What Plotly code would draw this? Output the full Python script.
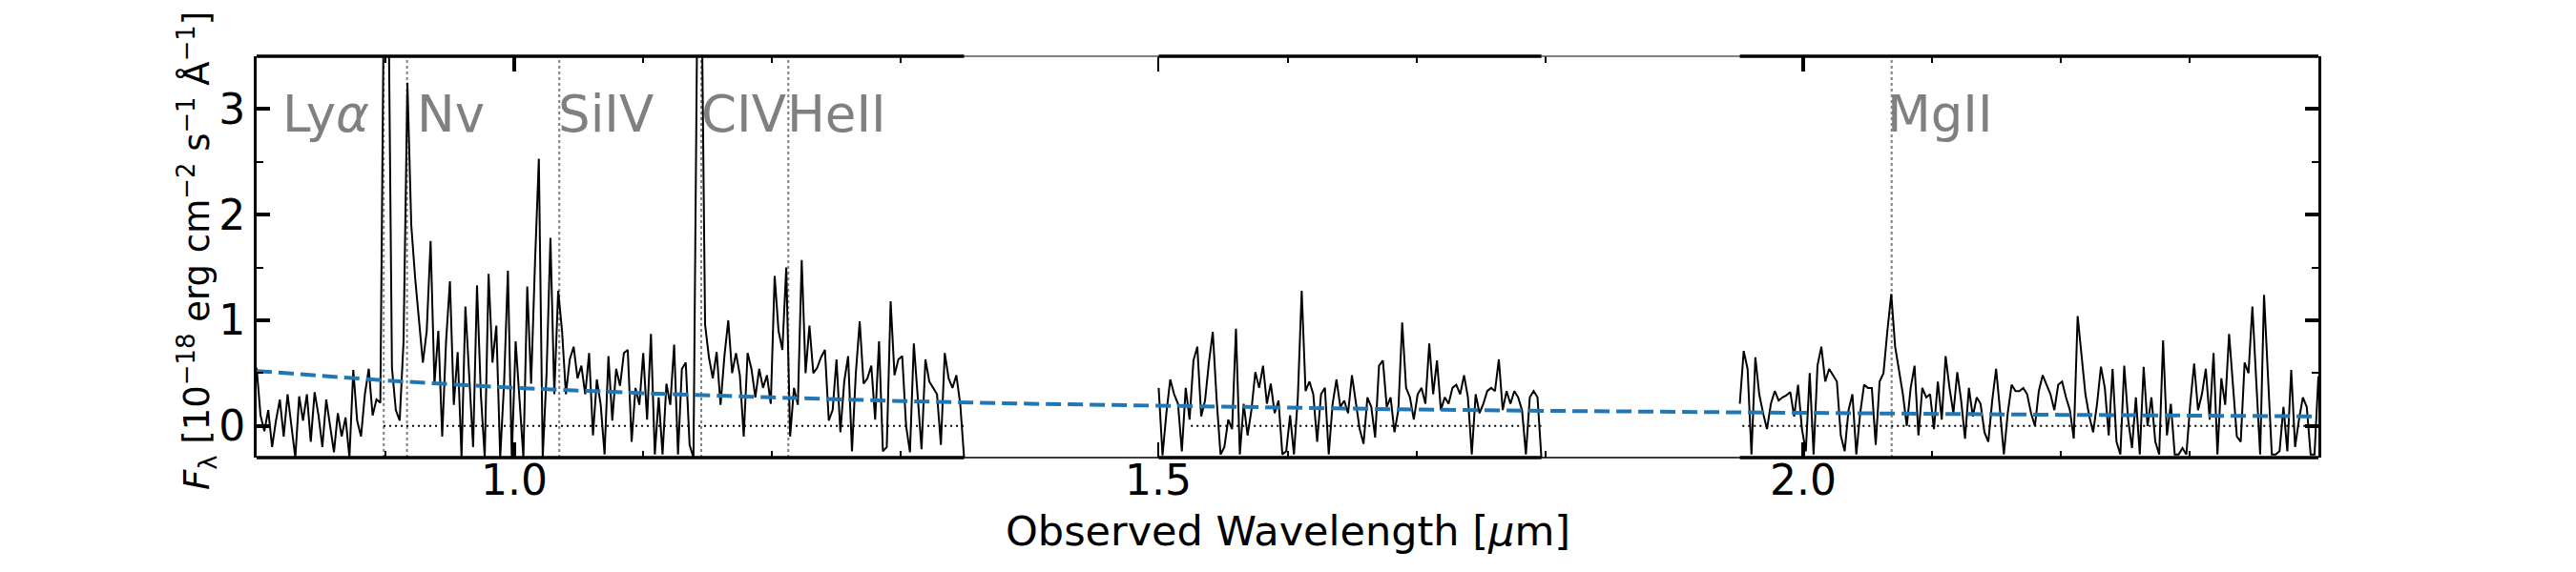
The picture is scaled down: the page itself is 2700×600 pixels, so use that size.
import numpy as np
import plotly.graph_objects as go

# ---------------- data ----------------
# wavelength coverage of the three spectral segments [micron]
segment_ranges = [(0.800, 1.349), (1.500, 1.797), (1.951, 2.400)]

flux_seg1 = [
    0.55, 0.1, -0.05, 0.15, -0.2, 0.05, 0.25, -0.1, 0.3, 0.0,
    -0.3, 0.28, 0.05, 0.3, -0.15, 0.32, 0.1, -0.2, 0.25, 0.0,
    -0.25, 0.12, -0.1, 0.08, -0.3, 0.53, 0.05, -0.1, 0.3, 0.54,
    0.1, 0.25, 0.22,
    4.5, 4.5, 0.55, 0.15, 0.05, 0.8, 3.25, 1.9, 1.4, 1.0, 0.6, 0.9, 1.75,
    0.4, 0.9, -0.1, 0.8, 1.37, 0.2, 0.7, -0.3, 1.13, 0.5,
    -0.2, 1.33, 0.3, -0.3, 1.44, 0.6, 0.95, -0.3, 0.4, 1.47,
    -0.3, 0.8, 0.2, -0.3, 1.32, 0.4, 1.54, 2.53, -0.3, 0.5,
    1.78, 0.3, 1.28,
    0.9, 0.3, 0.63, 0.75, 0.45, 0.57, 0.3, 0.69, -0.09, 0.44,
    0.2, -0.27, 0.66, 0.05, 0.54, 0.38, 0.69, 0.72, -0.15, 0.36,
    0.2, 0.69, 0.06, 0.87, -0.27, 0.27, -0.27, 0.4, 0.2, 0.77,
    -0.27, 0.54, 0.6, -0.18, -0.3,
    4.0, 4.5, 0.96, 0.65, 0.45, 0.7, 0.2, 0.66, 1.0, 0.5,
    0.69, 0.48, -0.1, 0.69, 0.54, 0.27, 0.54, 0.36, 0.48, 0.21,
    1.42, 0.9, 0.72, 1.5, -0.1, 0.36, 0.2, 1.57, 0.5, 0.95,
    0.5, 0.55, 0.65, 0.72, 0.05, 0.15, 0.63, -0.06, 0.42, 0.66,
    -0.24, 0.5, 0.99, 0.4, 0.45, 0.57, 0.06, 0.8, -0.24, -0.2,
    1.18, 0.48, 0.63, 0.66, 0.0, -0.25, 0.78, 0.3, -0.22, 0.63,
    0.42, 0.36, 0.3, -0.18, 0.69, 0.45, 0.36, 0.48, 0.21, -0.3,
]

flux_seg2 = [
    0.36, -0.28, 0.12, 0.44, 0.3, 0.21, -0.24, 0.36, 0.06, 0.62,
    0.75, 0.09, 0.24, 0.6, 0.89, 0.25, -0.27, -0.2, 0.06, -0.03,
    0.92, -0.27, 0.21, -0.09, 0.15, 0.51, 0.36, 0.57, 0.21, 0.4,
    0.12, 0.24, -0.27, -0.24, 0.1, -0.27, 0.27, 1.28, 0.33, 0.42,
    0.3, -0.15, 0.3, 0.36, -0.27, 0.21, 0.44, 0.18, 0.24, 0.12,
    0.48, 0.2, -0.03, -0.17, 0.27, 0.18, -0.11, 0.57, 0.62, 0.18,
    0.27, -0.06, 0.15, 0.98, 0.36, 0.27, 0.06, 0.3, 0.36, 0.21,
    0.78, 0.3, 0.62, 0.15, 0.27, 0.21, 0.36, 0.39, 0.3, 0.48,
    0.27, -0.27, 0.3, 0.12, 0.21, 0.33, 0.36, 0.33, 0.63, 0.15,
    0.33, 0.21, 0.33, 0.27, 0.15, -0.27, 0.27, 0.33, 0.27, -0.3,
]

flux_seg3 = [
    0.21, 0.71, 0.54, -0.27, 0.65, 0.3, 0.12, -0.03, 0.21, 0.33,
    0.24, 0.27, 0.29, 0.32, 0.09, 0.39, -0.03, -0.24, 0.5, -0.27,
    0.57, 0.75, 0.42, 0.54, 0.48, 0.42, -0.09, -0.24, 0.15, 0.3,
    -0.27, 0.12, 0.39, 0.36, 0.36, -0.18, 0.42, 0.5, 0.9, 1.25,
    0.75, 0.51, 0.3, 0.0, 0.36, 0.57, -0.09, 0.36, 0.27, 0.3,
    -0.03, 0.42, 0.06, 0.66, 0.36, 0.12, 0.51, 0.24, -0.12, 0.36,
    0.09, 0.27, 0.21, -0.06, -0.15, 0.24, 0.54, 0.15, -0.27, 0.12,
    0.39, 0.33, 0.33, 0.36, 0.3,
    0.12, 0.0, 0.33, 0.48, 0.39,
    0.3, 0.15, 0.39, 0.42, 0.27, 0.15, -0.12, 1.04, 0.66, 0.3,
    0.09, -0.06, 0.21, 0.56, 0.36, -0.09, 0.54, -0.15, -0.27, 0.57,
    0.06, -0.21, 0.27, -0.27, 0.56, 0.0, 0.27, -0.15, -0.27, 0.81,
    -0.09, 0.21, -0.27, -0.27, -0.21, -0.27, 0.21, 0.59, 0.15, 0.3,
    0.54, 0.06, 0.69, -0.27, 0.45, 0.2, 0.87, 0.42, -0.1, -0.15,
    0.6, 0.5, 1.13, 0.42, -0.27, 1.24, 0.5, -0.27, -0.27, -0.24,
    0.18, -0.24, 0.53, -0.2, 0.06, 0.27, 0.18, -0.27, -0.27, 0.47,
]

# continuum model (blue dashed), read at 0.1 micron steps
model_wave = [0.8, 0.9, 1.0, 1.1, 1.2, 1.3, 1.4, 1.5, 1.6, 1.7, 1.8, 1.9, 2.0, 2.1, 2.2, 2.3, 2.4]
model_flux = [0.52, 0.43, 0.36, 0.31, 0.27, 0.235, 0.21, 0.19, 0.17, 0.155, 0.143, 0.132, 0.123, 0.114, 0.105, 0.098, 0.09]

# extents of the dotted zero level
zero_ranges = [(0.8985, 1.349), (1.525, 1.797), (1.953, 2.400)]
zero_level = 0.0

# emission lines
redshift = 6.392
line_names = ["Ly<i>α</i>", "Nv", "SiIV", "CIV", "HeII", "MgII"]
line_rest_angstrom = [1215.67, 1240.14, 1400.0, 1549.06, 1640.42, 2798.75]
label_wave = [0.8185, 0.9229, 1.0325, 1.1435, 1.2101, 2.0640]

x_ticks = [1.0, 1.5, 2.0]
x_tick_text = ["1.0", "1.5", "2.0"]
x_minor_ticks = [0.9, 1.1, 1.2, 1.3, 1.6, 1.7, 1.8, 2.1, 2.2, 2.3]
y_ticks = [0, 1, 2, 3]
y_minor_ticks = [0.5, 1.5, 2.5]
x_range = [0.8, 2.4]
y_range = [-0.3, 3.5]

# ---------------- figure ----------------
fig = go.Figure()
FONT = "DejaVu Sans"

# vertical dotted line markers
line_obs = [r * (1 + redshift) / 1e4 for r in line_rest_angstrom]
for lw in line_obs:
    fig.add_trace(go.Scatter(x=[lw, lw], y=y_range, mode="lines",
                             line=dict(color="#808080", width=2, dash="3px,3px"),
                             hoverinfo="skip"))

fluxes = [flux_seg1, flux_seg2, flux_seg3]
for (w0, w1), fl in zip(segment_ranges, fluxes):
    wave = np.linspace(w0, w1, len(fl))
    fig.add_trace(go.Scatter(x=wave, y=fl, mode="lines",
                             line=dict(color="black", width=2)))

for (z0, z1) in zero_ranges:
    fig.add_trace(go.Scatter(x=[z0, z1], y=[zero_level, zero_level], mode="lines",
                             line=dict(color="black", width=2.2, dash="2px,4px"),
                             hoverinfo="skip"))

fig.add_trace(go.Scatter(x=model_wave, y=model_flux, mode="lines",
                         line=dict(color="#1f77b4", width=4, dash="16px,7px")))

# helper trace for the overlay axis carrying the heavy major ticks
fig.add_trace(go.Scatter(x=[1.0], y=[-10], xaxis="x2", mode="markers",
                         marker=dict(opacity=0), hoverinfo="skip"))

# frame: thin full-width top/bottom lines, heavy lines over each segment
shapes = [
    dict(type="line", xref="paper", yref="paper", x0=0, x1=1, y0=1, y1=1,
         line=dict(color="#555555", width=1.5)),
    dict(type="line", xref="paper", yref="paper", x0=0, x1=1, y0=0, y1=0,
         line=dict(color="black", width=1.5)),
]
for (w0, w1) in segment_ranges:
    for yy in (0, 1):
        shapes.append(dict(type="line", xref="x", yref="paper", x0=w0, x1=w1,
                           y0=yy, y1=yy, line=dict(color="black", width=3.5)))

annotations = []
for name, lx in zip(line_names, label_wave):
    annotations.append(dict(x=lx, y=2.95, xref="x", yref="y", text=name,
                            showarrow=False, xanchor="left", yanchor="middle",
                            font=dict(family=FONT, size=53, color="#808080")))

# x tick labels
for tv, tt in zip(x_ticks, x_tick_text):
    annotations.append(dict(x=tv, y=-0.057, xref="x", yref="paper", text=tt,
                            showarrow=False, xanchor="center", yanchor="middle",
                            font=dict(family=FONT, size=44, color="black")))

annotations.append(dict(
    x=-0.0292, y=0.515, xref="paper", yref="paper", textangle=-90,
    text="<i>F</i><sub>λ</sub> [10<sup>−18</sup> erg cm<sup>−2</sup> s<sup>−1</sup> Å<sup>−1</sup>]",
    showarrow=False, xanchor="center", yanchor="middle",
    font=dict(family=FONT, size=37, color="black")))
annotations.append(dict(
    x=0.5, y=-0.183, xref="paper", yref="paper",
    text="Observed Wavelength [<i>μ</i>m]",
    showarrow=False, xanchor="center", yanchor="middle",
    font=dict(family=FONT, size=43, color="black")))

fig.update_layout(
    width=2700, height=600,
    margin=dict(l=269, r=270, t=59, b=120),
    paper_bgcolor="white", plot_bgcolor="white",
    showlegend=False,
    font=dict(family=FONT, size=44, color="black"),
    shapes=shapes, annotations=annotations,
    xaxis=dict(range=x_range, tickmode="array", tickvals=x_ticks,
               showticklabels=False,
               ticks="inside", ticklen=16, tickwidth=1.5, tickcolor="black",
               showline=True, linecolor="rgba(0,0,0,0)", mirror="ticks",
               showgrid=False, zeroline=False,
               minor=dict(tickmode="array", tickvals=x_minor_ticks, ticks="inside",
                          ticklen=7, tickwidth=1.5, tickcolor="black", showgrid=False)),
    xaxis2=dict(range=x_range, overlaying="x", anchor="y", side="bottom",
                tickmode="array", tickvals=[x_ticks[0], x_ticks[2]],
                ticks="inside", ticklen=16, tickwidth=4, tickcolor="black",
                showticklabels=False, showline=True, linecolor="rgba(0,0,0,0)",
                mirror="ticks", showgrid=False, zeroline=False),
    yaxis=dict(range=y_range, tickmode="array", tickvals=y_ticks,
               ticks="inside", ticklen=14, tickwidth=4, tickcolor="black",
               showline=True, linewidth=3, linecolor="black", mirror="ticks",
               showgrid=False, zeroline=False,
               tickfont=dict(family=FONT, size=44, color="black"),
               minor=dict(tickmode="array", tickvals=y_minor_ticks, ticks="inside",
                          ticklen=7, tickwidth=1.5, tickcolor="black", showgrid=False)),
)

fig.write_html("out.html")
